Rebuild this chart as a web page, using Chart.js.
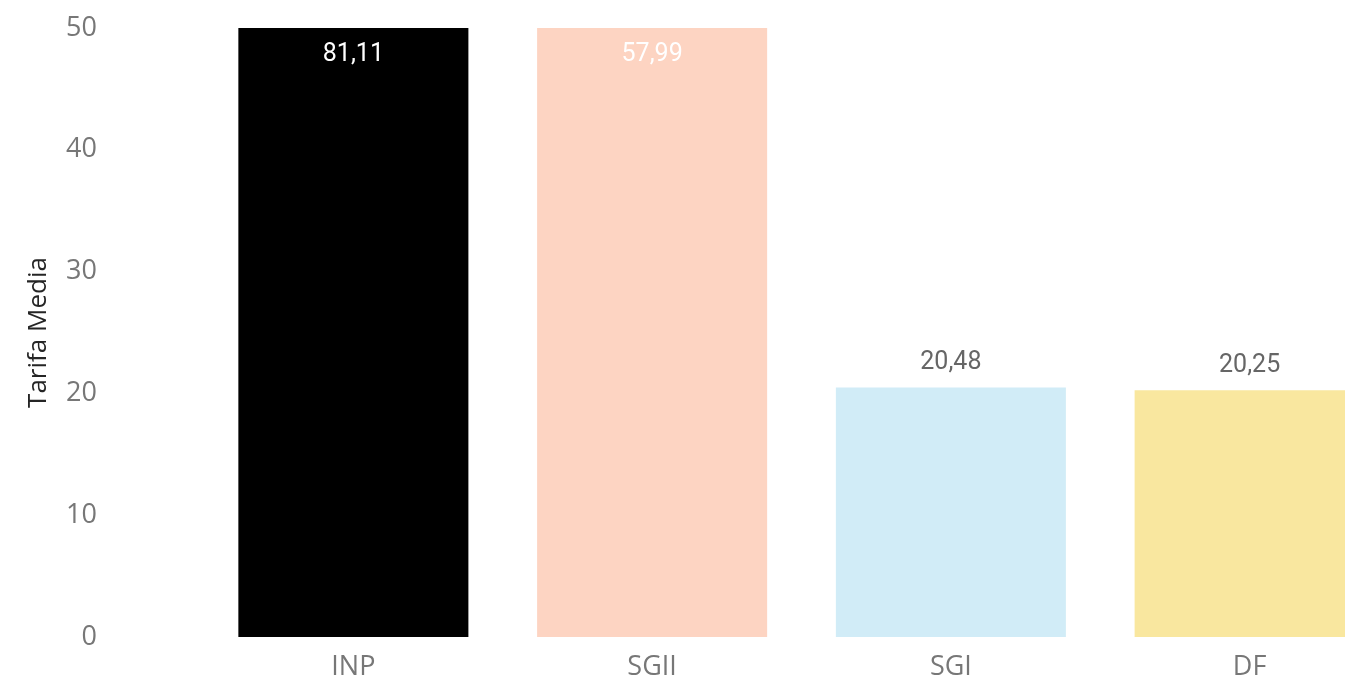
<!DOCTYPE html>
<html>
<head>
<meta charset="utf-8">
<script src="https://cdn.jsdelivr.net/npm/chart.js@4.4.1/dist/chart.umd.min.js"></script>
<style>
  html, body { margin: 0; padding: 0; background: #fff; overflow: hidden; }
  /* plot runs past the right edge of the window, as in the reference */
  #wrap { position: relative; width: 1399px; height: 678px; }
</style>
</head>
<body>
<div id="wrap"><canvas id="chart"></canvas></div>
<script>
// ─── data ────────────────────────────────────────────────────────────────────
const categories = ['INP', 'SGII', 'SGI', 'DF'];
const tarifaMedia = [81.11, 57.99, 20.48, 20.25];
const barColors = ['#000000', '#fdd4c2', '#d1ecf7', '#f9e79f'];
const yTicks = [0, 10, 20, 30, 40, 50];

const Y_MAX = 50;
const TICK_FONT = { family: '"Open Sans", sans-serif', size: 27 };

const fmt = v => v.toFixed(2).replace('.', ',');

// value labels: inside (white) when the bar is cut off by the axis max, above otherwise
const valueLabels = {
  id: 'valueLabels',
  afterDatasetsDraw(chart) {
    const ctx = chart.ctx;
    const area = chart.chartArea;
    const meta = chart.getDatasetMeta(0);
    ctx.save();
    ctx.font = '25px Roboto, sans-serif';
    ctx.textAlign = 'center';
    ctx.textBaseline = 'middle';
    meta.data.forEach((bar, i) => {
      const v = tarifaMedia[i];
      if (v > Y_MAX) {
        ctx.fillStyle = '#ffffff';
        ctx.fillText(fmt(v), bar.x, area.top + 27);
      } else {
        ctx.fillStyle = '#666666';
        ctx.fillText(fmt(v), bar.x, bar.y - 25);
      }
    });
    ctx.restore();
  }
};

new Chart(document.getElementById('chart'), {
  type: 'bar',
  data: {
    labels: categories,
    datasets: [{
      label: 'Tarifa Media',
      data: tarifaMedia,
      backgroundColor: barColors,
      borderWidth: 0,
      categoryPercentage: 1,
      barPercentage: 0.77,
    }],
  },
  options: {
    responsive: true,
    maintainAspectRatio: false,
    animation: false,
    layout: { padding: { top: 28, left: 0, right: 0, bottom: 0 } },
    plugins: {
      legend: { display: false },
      tooltip: { enabled: false },
    },
    scales: {
      x: {
        grid: { display: false },
        border: { display: false },
        ticks: { color: '#777777', padding: 6, font: TICK_FONT },
        afterFit: s => { s.height = 41; },
      },
      y: {
        min: 0,
        max: Y_MAX,
        afterBuildTicks: s => { s.ticks = yTicks.map(v => ({ value: v })); },
        grid: { display: false },
        border: { display: false },
        ticks: { color: '#777777', padding: 99, font: TICK_FONT },
        title: {
          display: true,
          text: 'Tarifa Media',
          color: '#252525',
          padding: { top: 23, bottom: 0 },
          font: { family: '"Open Sans", sans-serif', size: 26 },
        },
        // fixed axis width; drop the tick padding that v4 also adds above/below
        afterFit: s => { s.width = 204; s.paddingTop = 14; s.paddingBottom = 14; },
      },
    },
  },
  plugins: [valueLabels],
});
</script>
</body>
</html>
